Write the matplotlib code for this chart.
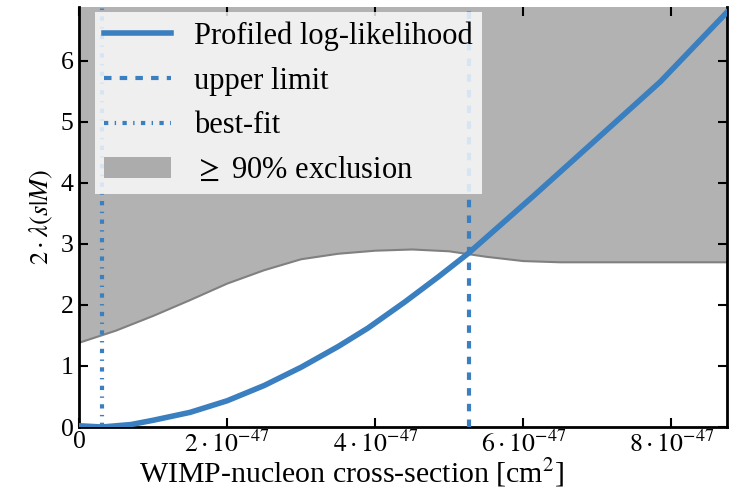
import numpy as np
import matplotlib
matplotlib.use('Agg')
import matplotlib.pyplot as plt

# profiled likelihood curve (x in units of 1e-47 cm^2)
profile_x = [0.0, 0.31, 0.7, 1.0, 1.5, 2.0, 2.5, 3.0, 3.5, 3.9, 4.4, 4.85, 5.26, 6.13, 7.0, 7.85, 8.75]
profile_y = [0.02, 0.0, 0.04, 0.11, 0.24, 0.43, 0.68, 0.98, 1.32, 1.62, 2.05, 2.46, 2.85, 3.78, 4.73, 5.66, 6.8]

# 90% exclusion threshold
excl_x = [0.0, 0.5, 1.0, 1.5, 2.0, 2.5, 3.0, 3.5, 4.0, 4.5, 5.0, 5.5, 6.0, 6.5, 8.75]
excl_y = [1.38, 1.58, 1.82, 2.08, 2.35, 2.57, 2.75, 2.84, 2.89, 2.91, 2.88, 2.79, 2.72, 2.70, 2.70]

best_fit = 0.31
upper_limit = 5.26

xticks = [0, 2, 4, 6, 8]
xticklabels = ['0', r'$2\cdot10^{-47}$', r'$4\cdot10^{-47}$', r'$6\cdot10^{-47}$', r'$8\cdot10^{-47}$']
yticks = [0, 1, 2, 3, 4, 5, 6]

plt.rcParams['font.family'] = ['Liberation Serif', 'DejaVu Serif']
plt.rcParams['mathtext.fontset'] = 'stix'
plt.rcParams['lines.scale_dashes'] = False

blue = '#3a7fbf'
scale = 1e-47

fig = plt.figure(figsize=(7.31, 4.90), dpi=100)
ax = fig.add_axes([79 / 731, 63 / 490, (727 - 79) / 731, (427 - 7) / 490])

px = np.array(profile_x) * scale
ex = np.array(excl_x) * scale

ax.fill_between(ex, excl_y, 10, color='gray', alpha=0.6, linewidth=0,
                label=r'$\geq$ 90% exclusion', zorder=1)
ax.plot(ex, excl_y, color='#808080', lw=1.5, zorder=2)
ax.plot(px, profile_y, color=blue, lw=4, label='Profiled log-likelihood', zorder=4)
ax.axvline(upper_limit * scale, color=blue, lw=3.0, dashes=(5.4, 5.9),
           label='upper limit', zorder=3)
ax.axvline(best_fit * scale, color=blue, lw=3.0, dashes=(3.1, 4.6, 1.0, 4.6),
           label='best-fit', zorder=3)

ax.set_xlim(0, 8.75 * scale)
ax.set_ylim(0, 6.885)
ax.set_xticks(np.array(xticks) * scale)
ax.set_xticklabels(xticklabels)
ax.set_yticks(yticks)
ax.tick_params(direction='in', length=6.5, width=1.5, labelsize=18.5, pad=4,
               top=True, right=True)
ax.tick_params(axis='x', pad=3)
for side in ['left', 'right', 'bottom']:
    ax.spines[side].set_linewidth(2)
ax.spines['top'].set_visible(False)

ax.set_xlabel(r'WIMP-nucleon cross-section [cm$^2$]', fontsize=21.5)
ax.xaxis.set_label_coords(0.421, -0.071)
ax.set_ylabel(r'$2\cdot\lambda(s|M)$', fontsize=19, labelpad=4)

handles, labels = ax.get_legend_handles_labels()
order = [1, 2, 3, 0]
leg = ax.legend([handles[i] for i in order], [labels[i] for i in order],
                loc='upper left', bbox_to_anchor=(95 / 731, 1 - 12 / 490),
                bbox_transform=fig.transFigure, borderaxespad=0, borderpad=0.3,
                fontsize=22, handlelength=2.2, handletextpad=0.75,
                labelspacing=0.52, framealpha=0.8, fancybox=False)
leg.get_frame().set_edgecolor('none')
leg.set_zorder(10)

fig.savefig('out.png', dpi=100)
